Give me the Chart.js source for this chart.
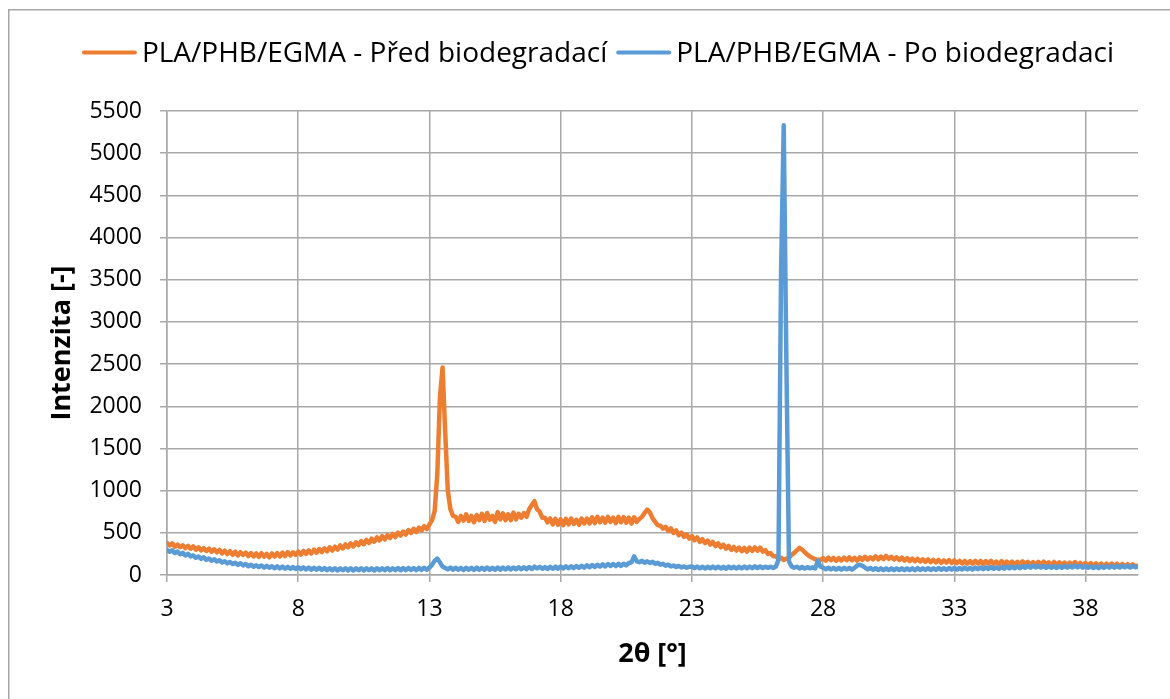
<!DOCTYPE html>
<html>
<head>
<meta charset="utf-8">
<script src="https://cdn.jsdelivr.net/npm/chart.js@4.4.1/dist/chart.umd.min.js"></script>
<style>
  html, body { margin: 0; padding: 0; background: #fff; overflow: hidden; }
  #wrap { position: relative; width: 1170px; height: 699px; }
  canvas { display: block; }
</style>
</head>
<body>
<div id="wrap"><canvas id="c" width="1170" height="699"></canvas></div>
<script>
// ---- data ----
const seriesNames = ['PLA/PHB/EGMA - Před biodegradací', 'PLA/PHB/EGMA - Po biodegradaci'];
const xAxisTitle = '2θ [°]';
const yAxisTitle = 'Intenzita [-]';
const xTickValues = [3, 8, 13, 18, 23, 28, 33, 38];
// sampling grid of the diffractogram: 2θ from 3.0 to 40.0 in 0.1° steps
const angleStart = 3.0;
const angleStep = 0.1;

// intensity before biodegradation (orange), one row per degree (x.0 .. x.9)
const intensityBefore = [
  380, 350, 375, 335, 360, 330, 352, 318, 345, 312,
  338, 300, 328, 292, 318, 285, 312, 276, 305, 270,
  298, 255, 288, 248, 282, 240, 276, 232, 270, 238,
  266, 225, 260, 220, 255, 215, 258, 218, 250, 210,
  255, 218, 260, 220, 265, 225, 272, 232, 268, 238,
  278, 242, 285, 250, 292, 255, 300, 265, 308, 272,
  315, 280, 328, 290, 335, 302, 350, 315, 362, 328,
  375, 338, 388, 355, 402, 365, 415, 380, 430, 395,
  445, 410, 460, 422, 472, 438, 488, 450, 502, 468,
  515, 480, 532, 498, 548, 510, 562, 528, 578, 545,
  600, 650, 760, 1200, 2100, 2460, 1700, 1000, 780, 700,
  690, 630, 700, 645, 720, 640, 700, 625, 710, 650,
  725, 640, 735, 655, 700, 630, 745, 660, 730, 650,
  720, 650, 740, 660, 725, 680, 735, 690, 780, 830,
  875, 780, 750, 680, 680, 625, 670, 600, 665, 595,
  660, 590, 665, 600, 670, 605, 655, 595, 670, 610,
  670, 610, 685, 615, 690, 625, 680, 620, 690, 630,
  680, 615, 690, 625, 685, 620, 680, 610, 685, 630,
  665, 690, 735, 775, 740, 675, 630, 590, 585, 550,
  570, 522, 552, 498, 528, 472, 502, 452, 482, 432,
  462, 412, 445, 392, 425, 378, 408, 360, 392, 342,
  375, 328, 360, 312, 345, 298, 332, 290, 325, 282,
  320, 278, 325, 285, 328, 288, 325, 278, 295, 250,
  260, 222, 222, 192, 205, 178, 195, 205, 238, 262,
  292, 322, 302, 270, 242, 218, 202, 186, 182, 180,
  200, 170, 205, 175, 203, 168, 200, 172, 205, 176,
  210, 175, 204, 170, 208, 180, 215, 182, 210, 186,
  222, 185, 218, 188, 226, 192, 215, 184, 210, 178,
  206, 172, 200, 166, 195, 164, 190, 160, 186, 156,
  184, 152, 180, 150, 178, 145, 174, 146, 176, 142,
  172, 140, 168, 136, 166, 134, 164, 134, 168, 136,
  166, 132, 164, 134, 168, 132, 160, 130, 164, 132,
  160, 130, 158, 126, 156, 130, 162, 126, 156, 124,
  154, 124, 156, 122, 158, 126, 150, 122, 154, 120,
  150, 120, 148, 116, 146, 120, 152, 114, 144, 116,
  142, 112, 141, 110, 138, 112, 136, 106, 134, 110,
  136, 104, 134, 102, 131, 104, 128, 100, 126, 102,
  112
];

// intensity after biodegradation (blue), one row per degree (x.0 .. x.9)
const intensityAfter = [
  300, 276, 292, 260, 278, 246, 262, 232, 250, 220,
  232, 205, 220, 192, 210, 180, 196, 170, 186, 160,
  175, 148, 164, 138, 154, 130, 146, 120, 140, 114,
  130, 104, 122, 98, 116, 94, 112, 88, 108, 86,
  104, 80, 102, 78, 99, 76, 96, 74, 94, 72,
  92, 68, 90, 66, 88, 64, 86, 62, 84, 61,
  82, 58, 80, 56, 79, 54, 78, 56, 80, 54,
  79, 54, 78, 56, 80, 54, 79, 56, 78, 54,
  80, 56, 79, 58, 82, 56, 80, 58, 82, 56,
  82, 58, 84, 60, 82, 58, 84, 61, 86, 64,
  88, 120, 170, 195, 150, 100, 84, 68, 88, 64,
  86, 62, 84, 60, 86, 62, 84, 61, 88, 62,
  86, 62, 88, 64, 86, 62, 89, 64, 88, 66,
  90, 66, 89, 68, 92, 68, 90, 70, 94, 72,
  99, 78, 96, 74, 94, 72, 96, 74, 99, 76,
  100, 78, 102, 80, 104, 82, 106, 86, 110, 88,
  114, 92, 119, 96, 122, 100, 126, 102, 129, 106,
  130, 106, 132, 108, 134, 114, 142, 150, 222, 162,
  152, 168, 146, 162, 143, 157, 133, 144, 122, 132,
  110, 122, 102, 112, 96, 108, 90, 102, 86, 98,
  101, 81, 99, 79, 98, 77, 97, 79, 99, 77,
  98, 77, 97, 75, 99, 79, 97, 77, 98, 79,
  101, 79, 99, 81, 103, 83, 101, 81, 99, 85,
  98, 82, 100, 180, 3600, 5330, 2560, 160, 102, 86,
  98, 77, 95, 75, 93, 79, 91, 77, 170, 100,
  88, 69, 87, 67, 85, 65, 83, 63, 85, 67,
  83, 65, 85, 112, 120, 108, 88, 67, 83, 63,
  81, 59, 79, 57, 77, 59, 79, 57, 78, 59,
  79, 57, 77, 59, 79, 57, 81, 59, 79, 61,
  81, 59, 79, 61, 83, 63, 81, 61, 83, 63,
  85, 63, 83, 65, 87, 67, 85, 65, 88, 69,
  89, 69, 91, 71, 93, 73, 91, 72, 95, 75,
  98, 77, 99, 79, 101, 81, 103, 85, 108, 87,
  111, 89, 108, 87, 107, 85, 105, 85, 103, 83,
  105, 85, 107, 87, 109, 89, 111, 91, 108, 87,
  107, 85, 103, 83, 101, 81, 103, 85, 105, 87,
  108, 87, 107, 89, 109, 91, 108, 89, 107, 92,
  100
];

const seriesColors = ['#ED7D31', '#5B9BD5'];

function toPoints(values) {
  return values.map((v, i) => ({ x: Math.round((angleStart + i * angleStep) * 10) / 10, y: v }));
}

const FONT = '"Open Sans", "Noto Sans", sans-serif';
const gridColor = '#a8a8a8';

const framePlugin = {
  id: 'frame',
  beforeDraw(chart) {
    const ctx = chart.ctx;
    ctx.save();
    ctx.fillStyle = '#ffffff';
    ctx.fillRect(0, 0, chart.width, chart.height);
    ctx.strokeStyle = '#a6a6a6';
    ctx.lineWidth = 1.5;
    ctx.strokeRect(8.75, 9.75, 1300, 900);
    ctx.restore();
  }
};

const legendPlugin = {
  id: 'topLegend',
  afterDraw(chart) {
    const ctx = chart.ctx;
    ctx.save();
    ctx.font = '28px ' + FONT;
    ctx.textBaseline = 'alphabetic';
    ctx.textAlign = 'left';
    const items = chart.data.datasets.map(ds => ({
      text: ds.label, color: ds.borderColor, w: ctx.measureText(ds.label).width
    }));
    const lineLen = 53, gap = 6, itemGap = 10;
    const total = items.reduce((s, it) => s + lineLen + gap + it.w, 0) + itemGap * (items.length - 1);
    let x = 598.5 - total / 2;
    items.forEach(it => {
      ctx.strokeStyle = it.color;
      ctx.lineWidth = 4;
      ctx.lineCap = 'round';
      ctx.beginPath();
      ctx.moveTo(x + 1, 52.5);
      ctx.lineTo(x + lineLen - 1, 52.5);
      ctx.stroke();
      ctx.fillStyle = '#000';
      ctx.fillText(it.text, x + lineLen + gap, 62);
      x += lineLen + gap + it.w + itemGap;
    });
    ctx.restore();
  }
};

function build() {
  const ctx = document.getElementById('c').getContext('2d');
  new Chart(ctx, {
    type: 'line',
    data: {
      datasets: [
        {
          label: seriesNames[0], data: toPoints(intensityBefore),
          borderColor: seriesColors[0], backgroundColor: seriesColors[0],
          borderWidth: 4.5, pointRadius: 0, tension: 0, order: 1,
          borderJoinStyle: 'round', borderCapStyle: 'round'
        },
        {
          label: seriesNames[1], data: toPoints(intensityAfter),
          borderColor: seriesColors[1], backgroundColor: seriesColors[1],
          borderWidth: 4.5, pointRadius: 0, tension: 0, order: 0,
          borderJoinStyle: 'round', borderCapStyle: 'round'
        }
      ]
    },
    options: {
      responsive: false,
      animation: false,
      devicePixelRatio: 1,
      layout: { padding: { top: 111, right: 32, bottom: 0, left: 0 } },
      plugins: { legend: { display: false }, tooltip: { enabled: false } },
      scales: {
        x: {
          type: 'linear', min: 3, max: 40,
          afterBuildTicks: s => { s.ticks = xTickValues.map(v => ({ value: v })); },
          afterFit: s => { s.height = 124; },
          grid: { color: gridColor, lineWidth: 1.5, tickLength: 7, drawTicks: true },
          border: { color: gridColor, width: 1.5 },
          ticks: { font: { family: FONT, size: 23 }, color: '#000', padding: 14, maxRotation: 0, autoSkip: false,
                   callback: v => String(v) },
          title: { display: true, text: xAxisTitle, color: '#000',
                   font: { family: FONT, size: 27, weight: 'bold' }, padding: { top: 0, bottom: 28 } }
        },
        y: {
          type: 'linear', min: 0, max: 5500,
          afterFit: s => { s.width = 167; },
          grid: { color: gridColor, lineWidth: 1.5, tickLength: 7, drawTicks: true },
          border: { color: gridColor, width: 1.5 },
          ticks: { stepSize: 500, font: { family: FONT, size: 23 }, color: '#000', padding: 18,
                   callback: v => String(v) },
          title: { display: true, text: yAxisTitle, color: '#000',
                   font: { family: FONT, size: 27, weight: 'bold' }, padding: { top: 46, bottom: 0 } }
        }
      }
    },
    plugins: [framePlugin, legendPlugin]
  });
}

const fontLoads = [
  document.fonts.load('28px "Open Sans"'),
  document.fonts.load('23px "Open Sans"'),
  document.fonts.load('bold 27px "Open Sans"')
];
Promise.all(fontLoads).then(build, build);
</script>
</body>
</html>
